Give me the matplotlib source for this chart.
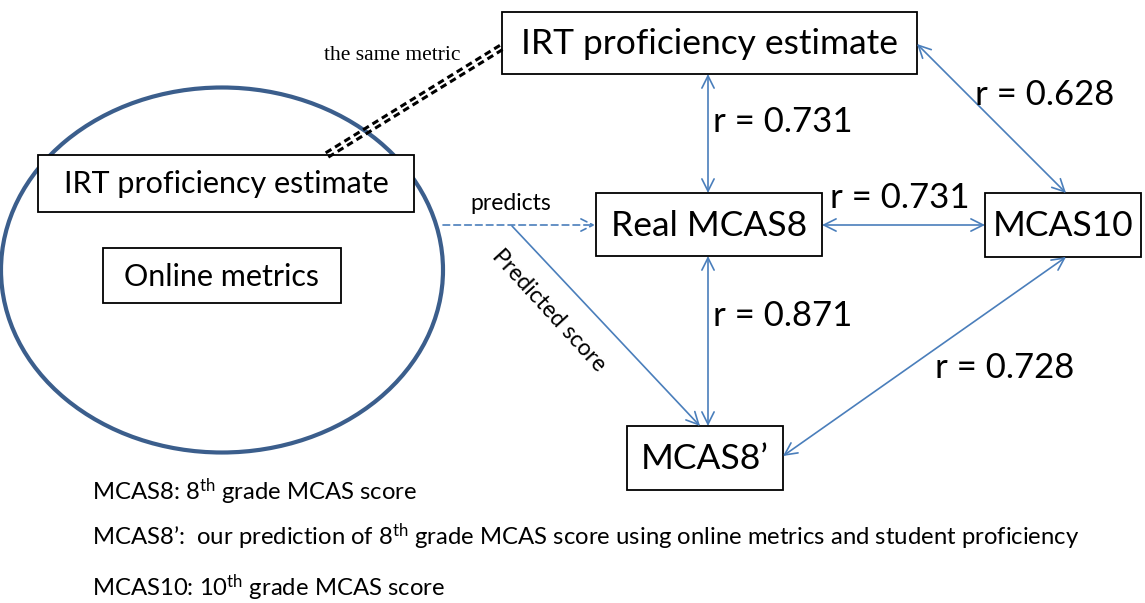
import matplotlib.pyplot as plt
from matplotlib.patches import Rectangle, Ellipse
import numpy as np

plt.rcParams['font.family'] = ['Lato', 'DejaVu Sans']
plt.rcParams['mathtext.fontset'] = 'custom'
plt.rcParams['mathtext.rm'] = 'Lato'
plt.rcParams['mathtext.it'] = 'Lato'

W, H = 1145, 603
blue = '#4a7ebb'

# boxes: label, x0, y0, x1, y1, fontsize
box_labels = ['IRT proficiency estimate', 'IRT proficiency estimate', 'Online metrics',
              'Real MCAS8', 'MCAS10', 'MCAS8\u2019']
box_x0 = [502, 38, 103, 596, 985, 627]
box_y0 = [12, 155, 248, 193, 193, 426]
box_x1 = [917, 414, 341, 822, 1141, 783]
box_y1 = [74, 212, 303, 256, 257, 490]
box_fs = [25.5, 22, 22, 25.5, 25.5, 25.5]

# correlation arrows: start, end, label, label position
corr_start = [(708, 74), (917, 44), (822, 225), (708, 256), (1066, 257)]
corr_end = [(708, 193), (1066, 193), (985, 225), (708, 426), (783, 456)]
corr_r = [0.731, 0.628, 0.731, 0.871, 0.728]
corr_lbl_pos = [(783, 122), (1045, 95), (900, 198), (783, 316), (1005, 368)]

notes = ['MCAS8: 8$^{\\mathrm{th}}$ grade MCAS score',
         'MCAS8\u2019:  our prediction of 8$^{\\mathrm{th}}$ grade MCAS score using online metrics and student proficiency',
         'MCAS10: 10$^{\\mathrm{th}}$ grade MCAS score']
notes_y = [492, 537, 588]

fig = plt.figure(figsize=(W / 100, H / 100), dpi=100)
ax = fig.add_axes([0, 0, 1, 1])
ax.set_xlim(0, W)
ax.set_ylim(H, 0)
ax.axis('off')

# ellipse around the inner metrics
ax.add_patch(Ellipse((222, 270), 442, 365, fill=False, ec='#3b5e8c', lw=3, zorder=2))

for lab, x0, y0, x1, y1, fs in zip(box_labels, box_x0, box_y0, box_x1, box_y1, box_fs):
    ax.add_patch(Rectangle((x0, y0), x1 - x0, y1 - y0, fc='white', ec='black', lw=1.3, zorder=3))
    ax.text((x0 + x1) / 2, (y0 + y1) / 2 + 1, lab, ha='center', va='center', fontsize=fs, zorder=4)

for s, e, r, (lx, ly) in zip(corr_start, corr_end, corr_r, corr_lbl_pos):
    ax.annotate('', xy=e, xytext=s,
                arrowprops=dict(arrowstyle='<->', color=blue, lw=1.2, mutation_scale=22,
                                shrinkA=0, shrinkB=0))
    ax.text(lx, ly, f'r = {r:.3f}', ha='center', va='center', fontsize=25)

# predicts (dashed) and predicted score arrows
ax.annotate('', xy=(595, 225), xytext=(443, 225),
            arrowprops=dict(arrowstyle='->', color=blue, lw=1.2, ls=(0, (4, 2.5)), mutation_scale=22,
                            shrinkA=0, shrinkB=0))
ax.text(511, 204, 'predicts', ha='center', va='center', fontsize=16.5)
ax.annotate('', xy=(700, 426), xytext=(512, 226),
            arrowprops=dict(arrowstyle='->', color=blue, lw=1.2, mutation_scale=22,
                            shrinkA=0, shrinkB=0))
ax.text(549, 311, 'Predicted score', ha='center', va='center', fontsize=16.5, rotation=-47.5)

# double dashed line "the same metric"
p0 = np.array([327.0, 155.0])
p1 = np.array([502.0, 47.0])
d = (p1 - p0) / np.linalg.norm(p1 - p0)
n = np.array([-d[1], d[0]])
for off in (-2.5, 2.5):
    a, b = p0 + n * off, p1 + n * off
    ax.plot([a[0], b[0]], [a[1], b[1]], color='black', lw=2.2, ls=(0, (2.2, 1.4)), zorder=5)
ax.text(392, 55, 'the same metric', ha='center', va='center', fontsize=15.5,
        family=['Liberation Serif', 'DejaVu Serif'])

for t, y in zip(notes, notes_y):
    ax.text(92, y, t, ha='left', va='center', fontsize=17.2)

fig.savefig('out.png', dpi=100)
